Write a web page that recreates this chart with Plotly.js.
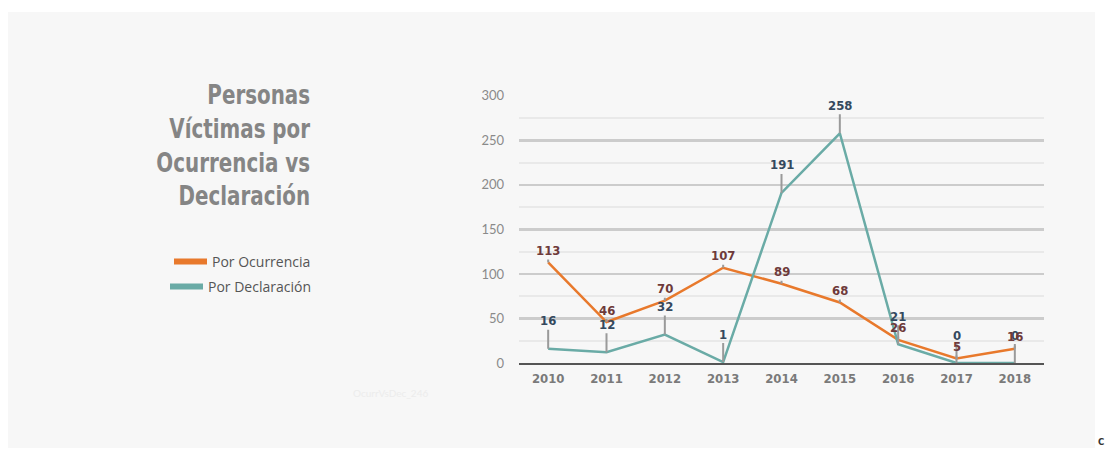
<!DOCTYPE html>
<html>
<head>
<meta charset="utf-8">
<script src="https://cdn.plot.ly/plotly-3.0.1.min.js"></script>
<style>
  html, body { margin: 0; padding: 0; background: #ffffff; }
  #bg { position: absolute; left: 8px; top: 12px; width: 1087px; height: 436px; background: #f7f7f7; }
  #chart { position: absolute; left: 0; top: 0; width: 1107px; height: 451px; }
</style>
</head>
<body>
<div id="bg"></div>
<div id="chart"></div>
<script>
const years = [2010, 2011, 2012, 2013, 2014, 2015, 2016, 2017, 2018];
const ocurrencia = [113, 46, 70, 107, 89, 68, 26, 5, 16];
const declaracion = [16, 12, 32, 1, 191, 258, 21, 0, 0];
const yTicks = [0, 50, 100, 150, 200, 250, 300];
const titleText = 'Personas<br>Víctimas por<br>Ocurrencia vs<br>Declaración';
const nameOcurrencia = 'Por Ocurrencia';
const nameDeclaracion = 'Por Declaración';

const W = 1107, H = 451;
const M = {l: 519, r: 63, t: 95, b: 88};
const pw = W - M.l - M.r, ph = H - M.t - M.b;
const px = v => (v - M.l) / pw;
const py = v => (H - M.b - v) / ph;

const orange = '#e8792c';
const teal = '#6aaba6';
const condensed = '"DejaVu Sans Condensed", "DejaVu Sans", sans-serif';

const traces = [
  {x: years, y: ocurrencia, type: 'scatter', mode: 'lines', line: {color: orange, width: 2.5}, showlegend: false, hoverinfo: 'x+y'},
  {x: years, y: declaracion, type: 'scatter', mode: 'lines', line: {color: teal, width: 2.5}, showlegend: false, hoverinfo: 'x+y'},
  {x: [null], y: [null], type: 'scatter', mode: 'lines', name: nameOcurrencia, line: {color: orange, width: 6}, legend: 'legend'},
  {x: [null], y: [null], type: 'scatter', mode: 'lines', name: nameDeclaracion, line: {color: teal, width: 6}, legend: 'legend2'}
];

function labels(xs, ys, color, ay) {
  return xs.map((x, i) => ({
    x: x, y: ys[i], xref: 'x', yref: 'y',
    text: String(ys[i]), showarrow: true, arrowhead: 0, arrowwidth: 2,
    arrowcolor: '#9a9a9a', ax: 0, ay: ay, standoff: 0,
    font: {family: condensed, size: 13, color: color, weight: 'bold'}
  }));
}

const annotations = [
  ...labels(years, declaracion, '#34495e', -28),
  ...labels(years, ocurrencia, '#6e3a3a', -12),
  {xref: 'paper', yref: 'paper', x: px(312), y: py(145), xanchor: 'right', yanchor: 'middle',
   align: 'right', showarrow: false, text: titleText, name: 'title',
   font: {family: condensed, size: 26, color: '#858585', weight: 'bold'}},
  {xref: 'paper', yref: 'paper', x: px(390), y: py(393), xanchor: 'center', yanchor: 'middle',
   showarrow: false, text: 'OcurrVsDec_246', font: {family: 'Lato, sans-serif', size: 10, color: '#ececec'}},
  {xref: 'paper', yref: 'paper', x: px(1096), y: py(440), xanchor: 'left', yanchor: 'middle',
   showarrow: false, text: 'c', font: {family: 'Lato, sans-serif', size: 13, color: '#333333', weight: 'bold'}}
];

const legendCommon = {
  xanchor: 'right', yanchor: 'middle', bgcolor: 'rgba(0,0,0,0)',
  font: {family: '"Open Sans", sans-serif', size: 14, color: '#555555'},
  itemwidth: 33, tracegroupgap: 0
};

const layout = {
  width: W, height: H, autosize: false,
  margin: M,
  paper_bgcolor: 'rgba(0,0,0,0)',
  plot_bgcolor: 'rgba(0,0,0,0)',
  showlegend: true,
  legend: Object.assign({x: px(316), y: py(262)}, legendCommon),
  legend2: Object.assign({x: px(316), y: py(287)}, legendCommon),
  xaxis: {
    range: [2009.5, 2018.5], tickvals: years, ticktext: years.map(String),
    showgrid: false, zeroline: false, showline: true, linecolor: '#555555', linewidth: 2,
    ticks: '', ticklabelstandoff: 2,
    tickfont: {family: condensed, size: 13, color: '#7a7a7a', weight: 'bold'}
  },
  yaxis: {
    range: [0, 301], tickvals: yTicks, ticks: '',
    showgrid: true, gridcolor: '#cccccc', gridwidth: 2.5,
    minor: {dtick: 25, showgrid: true, gridcolor: '#e9e9e9', gridwidth: 2},
    zeroline: false, showline: false, ticklabelstandoff: 14,
    tickfont: {family: 'Lato, sans-serif', size: 13, color: '#8a8a8a'}
  },
  annotations: annotations
};

Plotly.newPlot('chart', traces, layout, {displayModeBar: false, staticPlot: true}).then(gd => {
  // narrow the title to mimic the condensed face of the reference
  const idx = annotations.findIndex(a => a.name === 'title');
  const g = gd.querySelector('.annotation[data-index="' + idx + '"] text.annotation-text');
  if (g) {
    const bb = g.getBBox();
    const R = bb.x + bb.width;
    g.setAttribute('transform', 'translate(' + R + ',0) scale(0.85,1) translate(' + (-R) + ',0)');
  }
});
</script>
</body>
</html>
